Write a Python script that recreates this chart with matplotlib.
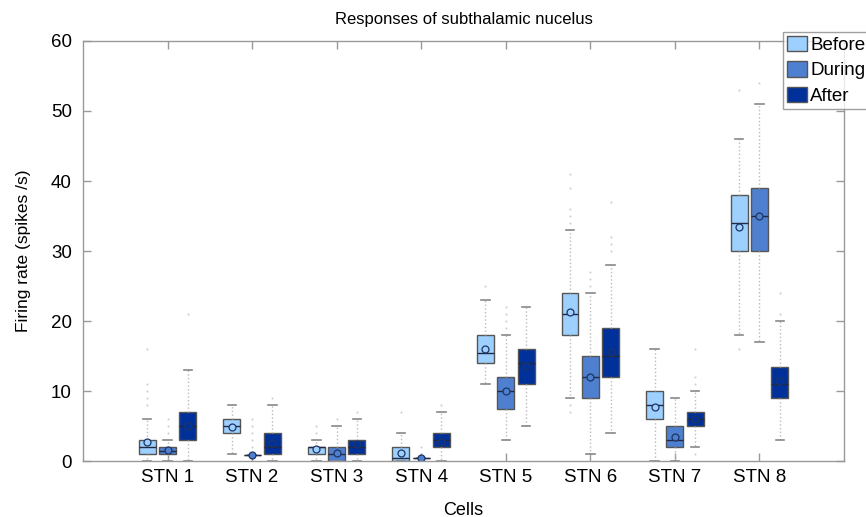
import numpy as np
import matplotlib
matplotlib.use('Agg')
import matplotlib.pyplot as plt
from matplotlib.patches import Patch

plt.rcParams['font.family'] = ['Liberation Sans', 'DejaVu Sans']

cells = ['STN 1', 'STN 2', 'STN 3', 'STN 4', 'STN 5', 'STN 6', 'STN 7', 'STN 8']
phases = ['Before', 'During', 'After']

# firing-rate summaries per cell (spikes/s)
before_lo = [0, 1, 0, 0, 11, 9, 0, 18]
before_q1 = [1, 4, 1, 0, 14, 18, 6, 30]
before_med = [2, 5, 2, 0.5, 15.5, 21, 8, 34]
before_q3 = [3, 6, 2, 2, 18, 24, 10, 38]
before_hi = [6, 8, 3, 4, 23, 33, 16, 46]
before_mean = [2.75, 4.8, 1.7, 1.1, 16, 21.3, 7.7, 33.5]
before_out = [[8, 9, 10, 11, 16], [], [4, 5], [7], [25],
              [7, 8, 34, 35, 36, 39, 41], [], [16, 53]]

during_lo = [0, 0.9, 0, 0.4, 3, 1, 0, 17]
during_q1 = [1, 0.9, 0, 0.4, 7.5, 9, 2, 30]
during_med = [1.5, 0.9, 1, 0.4, 10, 12, 3, 35]
during_q3 = [2, 0.9, 2, 0.4, 12, 15, 5, 39]
during_hi = [3, 0.9, 5, 0.4, 18, 24, 9, 51]
during_mean = [1.6, 0.9, 1.2, 0.4, 10, 12, 3.4, 35]
during_out = [[4, 5, 6], [2, 3, 4, 5, 6], [6], [2], [19, 20, 21, 22],
              [25, 26, 27], [], [54]]

after_lo = [0, 0, 0, 0, 5, 4, 2, 3]
after_q1 = [3, 1, 1, 2, 11, 12, 5, 9]
after_med = [5, 2, 2, 3, 14, 15, 6, 11]
after_q3 = [7, 4, 3, 4, 16, 19, 7, 13.5]
after_hi = [13, 8, 6, 7, 22, 28, 10, 20]
after_mean = [5, 2.6, 2.4, 2.7, 13.6, 15.6, 6, 11.4]
after_out = [[21], [9], [7], [8], [], [30, 31, 32, 37], [1, 11, 12, 16], [21, 24]]

colors = ['#9dcfff', '#4f80cf', '#00309a']


def make_stats(lo, q1, med, q3, hi, mean, out):
    stats = []
    for i in range(len(lo)):
        stats.append(dict(whislo=lo[i], q1=q1[i], med=med[i], q3=q3[i],
                          whishi=hi[i], mean=mean[i], fliers=out[i]))
    return stats


series = [
    make_stats(before_lo, before_q1, before_med, before_q3, before_hi, before_mean, before_out),
    make_stats(during_lo, during_q1, during_med, during_q3, during_hi, during_mean, during_out),
    make_stats(after_lo, after_q1, after_med, after_q3, after_hi, after_mean, after_out),
]

fig = plt.figure(figsize=(8.66, 5.17), dpi=100)
ax = fig.add_axes([0.0958, 0.1083, 0.8788, 0.8124])

x = np.arange(1, len(cells) + 1)
offsets = [-0.24, 0, 0.24]

for stats, off, col in zip(series, offsets, colors):
    ax.bxp(stats, positions=x + off, widths=0.2, capwidths=0.1,
           patch_artist=True, showmeans=True, showfliers=True,
           boxprops=dict(facecolor=col, edgecolor='#555555', linewidth=1),
           medianprops=dict(color='#222a44', linewidth=1),
           whiskerprops=dict(color='#bbbbbb', linestyle=':', linewidth=1),
           capprops=dict(color='#888888', linewidth=1.2),
           meanprops=dict(marker='o', markersize=5, markerfacecolor=col,
                          markeredgecolor='#1d3566', markeredgewidth=0.9),
           flierprops=dict(marker='o', markersize=1.5, markerfacecolor='#d0d0d0',
                           markeredgecolor='none'))

ax.set_xlim(0, 9)
ax.set_ylim(0, 60)
ax.set_xticks(x)
ax.set_xticklabels(cells, fontsize=13.5)
ax.set_yticks(np.arange(0, 61, 10))
ax.tick_params(axis='y', labelsize=13.5, pad=8)
ax.tick_params(axis='x', pad=6)
ax.tick_params(direction='in', length=6, color='#999999', top=True, right=True,
               width=1)
for s in ax.spines.values():
    s.set_color('#999999')
    s.set_linewidth(1)

ax.set_title('Responses of subthalamic nucelus', fontsize=12, pad=12)
ax.set_xlabel('Cells', fontsize=13, labelpad=11)
ax.set_ylabel('Firing rate (spikes /s)', fontsize=12.5, labelpad=14)

handles = [Patch(facecolor=c, edgecolor='#555555', label=p) for c, p in zip(colors, phases)]
leg = fig.legend(handles=handles, loc='upper left', bbox_to_anchor=(783 / 866, 1 - 32 / 517),
                 fontsize=13.5, frameon=True, fancybox=False, borderpad=0.2,
                 handlelength=1.1, handleheight=0.9, handletextpad=0.15,
                 labelspacing=0.38, borderaxespad=0)
leg.get_frame().set_edgecolor('#888888')
leg.get_frame().set_linewidth(1)

fig.savefig('out.png', dpi=100)
